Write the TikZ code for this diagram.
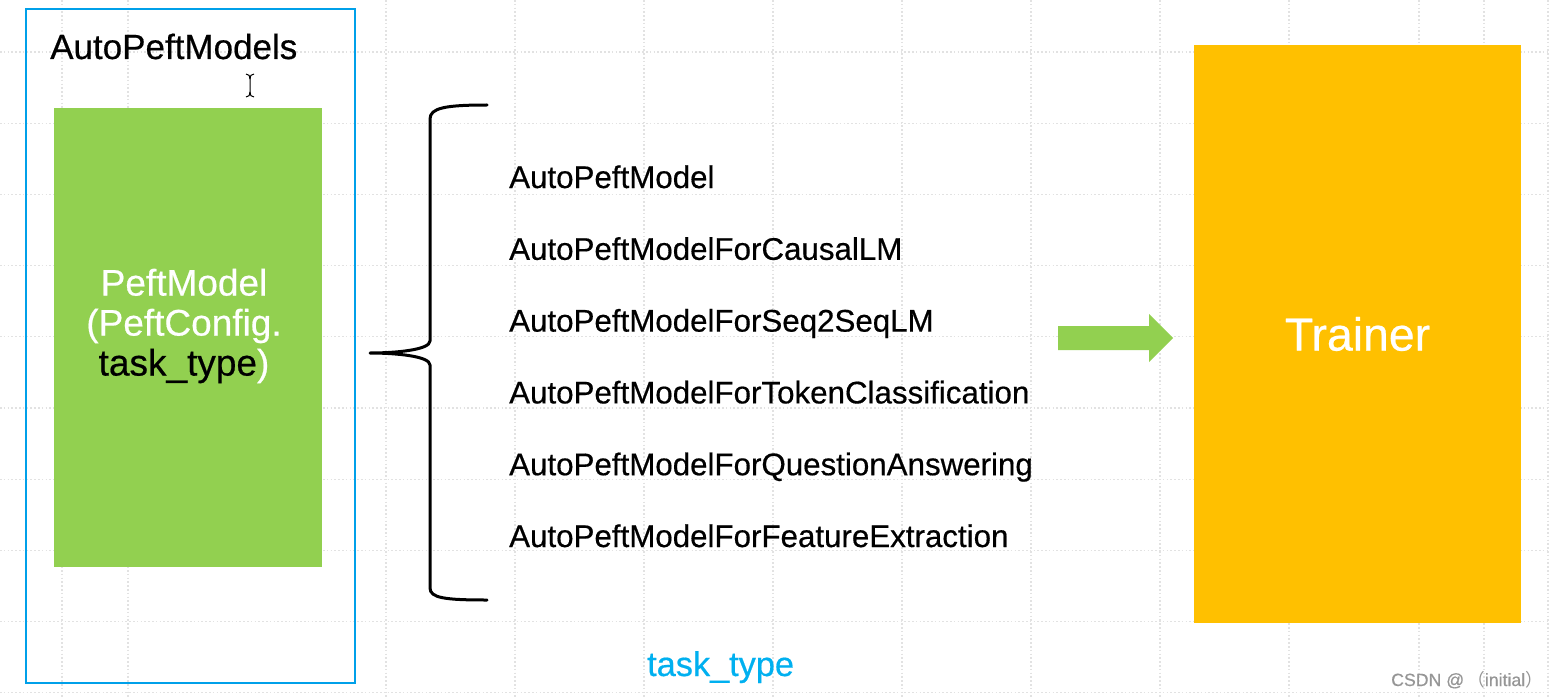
\documentclass[tikz,border=0pt]{standalone}
\usepackage{fontspec}
\setmainfont[FakeBold=0.5]{Liberation Sans}
\newfontfamily\cjk{Noto Sans CJK SC}
\usetikzlibrary{positioning}
\definecolor{boxblue}{RGB}{0,160,233}
\definecolor{leafgreen}{RGB}{146,208,80}
\definecolor{amber}{RGB}{255,192,0}
\definecolor{skyblue}{RGB}{0,176,240}
\definecolor{gridgray}{RGB}{226,226,226}
\definecolor{markgray}{RGB}{150,150,150}

\begin{document}
\begin{tikzpicture}[x=1pt,y=-1pt,
  grid line/.style={gridgray,line width=1.1pt,dash pattern=on 1.6pt off 2.2pt},
  item node/.style={font=\fontsize{31.3}{37}\selectfont,inner sep=0pt,anchor=base west},
  block node/.style={minimum width=#1,inner sep=0pt,outer sep=0pt},
  brace line/.style={line width=3pt,line cap=round,line join=round}]

    \useasboundingbox[fill=white] (0,0) rectangle (1550,698);

    \foreach \gx in {62,128,386,515,644,773,902,1031,1160,1289,1419,1484,1548}
        \draw[grid line] (\gx,0) -- (\gx,698);
    \foreach \k in {0,...,9}
        \draw[grid line] (0,52+71.2*\k) -- (1550,52+71.2*\k);

    \node[draw=boxblue, line width=2pt, block node=329pt, minimum height=674pt] (models) at (190.8,346) {};
    \node[inner sep=0pt, anchor=base west, font=\fontsize{35}{42}\selectfont] (title) at (50,59) {AutoPeftModels};

    \draw[line width=1pt] (246,74) .. controls (249,74) and (250,76) .. (250,79) -- (250,92) .. controls (250,95) and (249,97) .. (246,97);
    \draw[line width=1pt] (254,74) .. controls (251,74) and (250,76) .. (250,79);
    \draw[line width=1pt] (254,97) .. controls (251,97) and (250,95) .. (250,92);

    \node[fill=leafgreen, block node=268pt, minimum height=459pt] (peftbox) at (187.5,337.5) {};
    \node[text=white, align=center, inner sep=0pt, font=\fontsize{37}{40}\selectfont] (peft) at (184,326)
        {PeftModel\\(PeftConfig.\\\textcolor{black}{task\_type})};

    \coordinate (bt) at (487,105);
    \coordinate (bb) at (487,600);
    \coordinate (tip) at (370,353);
    \draw[brace line] (bt) .. controls (445,105) and (430,108) .. (430,119) -- (430,341)
        .. controls (430,350) and (395,353) .. (tip)
        .. controls (395,353) and (430,356) .. (430,365) -- (430,588)
        .. controls (430,598) and (445,600) .. (bb);

    \node[item node] (m1) at (509,188) {AutoPeftModel};
    \node[item node] (m2) [below=71.8pt of m1.base west, anchor=base west] {AutoPeftModelForCausalLM};
    \node[item node] (m3) [below=71.8pt of m2.base west, anchor=base west] {AutoPeftModelForSeq2SeqLM};
    \node[item node] (m4) [below=71.8pt of m3.base west, anchor=base west] {AutoPeftModelForTokenClassification};
    \node[item node] (m5) [below=71.8pt of m4.base west, anchor=base west] {AutoPeftModelForQuestionAnswering};
    \node[item node] (m6) [below=71.8pt of m5.base west, anchor=base west] {AutoPeftModelForFeatureExtraction};

    \coordinate (go) at (1058,338);
    \fill[leafgreen] (go) ++(0,-12) -- ++(91,0) -- ++(0,-12) -- ++(24,24) -- ++(-24,24) -- ++(0,-12) -- ++(-91,0) -- cycle;

    \node[fill=amber, block node=327pt, minimum height=578pt, text=white, font=\fontsize{46.4}{50}\selectfont] (trainer) at (1357.5,334) {Trainer};

    \node[text=skyblue, inner sep=0pt, anchor=base west, font=\fontsize{34.3}{40}\selectfont] (tasktype) at (647,676) {task\_type};

    \node[text=markgray, inner sep=0pt, anchor=base west, font=\fontsize{17.7}{20}\selectfont] (mark) at (1391,686) {CSDN @\,{\cjk （}initial{\cjk ）}};

\end{tikzpicture}
\end{document}
